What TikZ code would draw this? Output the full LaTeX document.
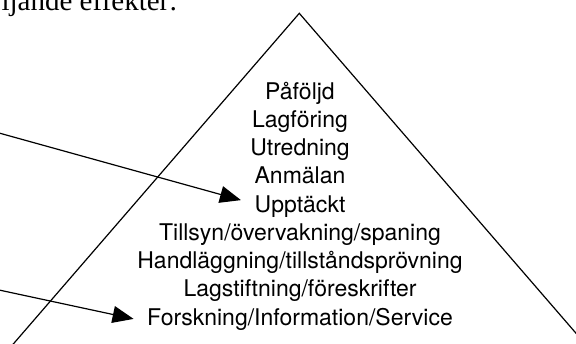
\documentclass[tikz,border=0pt]{standalone}
\usepackage{fontspec}
\setmainfont{Liberation Serif}
\newfontfamily\pyrfont{TeX Gyre Heros}
\usetikzlibrary{arrows.meta}
\tikzset{
    lvl/.style = {font=\pyrfont\fontsize{23}{28}\selectfont, align=center, inner xsep=13pt, inner ysep=0pt, anchor=base},
    head/.style = {font=\fontsize{29}{34}\selectfont, inner sep=0pt, anchor=base east},
    pyr/.style = {line width=1.2pt, line join=miter}
}

\begin{document}
\begin{tikzpicture}[x=1pt, y=-1pt, line width=1.2pt, >={Triangle[length=21pt,width=17pt]}]
    \useasboundingbox (0,0) rectangle (576,343);
    \node [head] (title) at (178,10.5) {ljande effekter:};
    \coordinate (apex) at (299.3,13.3);
    \coordinate (lfoot) at (-26.5,390);
    \coordinate (rfoot) at (625.1,390);
    \draw [pyr] (lfoot) -- (apex) -- (rfoot);
    \foreach \txt [count=\i] in {Påföljd, Lagföring, Utredning, Anmälan, Upptäckt,
        Tillsyn/övervakning/spaning, Handläggning/tillståndsprövning,
        Lagstiftning/föreskrifter, Forskning/Information/Service}
        \node [lvl] (l\i) at (300,70.75+28.25*\i) {\txt};
    \coordinate (s1) at (-1,133);
    \coordinate (s2) at (-1,290);
    \draw [->] (s1) -- ([yshift=6pt]l5.west);
    \draw [->] (s2) -- (l9.west);
\end{tikzpicture}
\end{document}
